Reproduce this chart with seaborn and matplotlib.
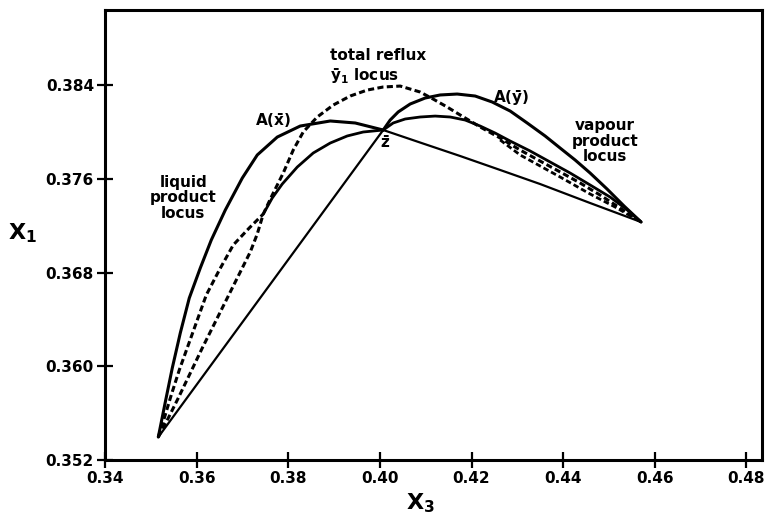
import matplotlib
matplotlib.use("Agg")
import matplotlib.pyplot as plt
import numpy as np
import pandas as pd
import seaborn as sns

# ---------------- data ----------------
# A(x-bar) profile: high arc from bottoms point to feed z, then near-straight to distillate point
ax_left_x = [0.35163, 0.35316, 0.35468, 0.35643, 0.35839, 0.36079, 0.36319, 0.36625,
             0.36996, 0.37323, 0.37760, 0.38261, 0.38916, 0.39461, 0.40072]
ax_left_y = [0.35396, 0.35695, 0.35985, 0.36284, 0.36582, 0.36838, 0.37077, 0.37333,
             0.37606, 0.37803, 0.37956, 0.38050, 0.38093, 0.38076, 0.38016]
ax_right_x = [0.40072, 0.40879, 0.41752, 0.42624, 0.43497, 0.44588, 0.45700]
ax_right_y = [0.38016, 0.37909, 0.37794, 0.37675, 0.37555, 0.37393, 0.37231]

# A(y-bar) profile: straight line to z, then high arc to distillate point
ay_left_x = [0.35163, 0.40072]
ay_left_y = [0.35396, 0.38016]
ay_right_x = [0.40072, 0.40224, 0.40399, 0.40661, 0.40988, 0.41316, 0.41686, 0.42079, 0.42450,
              0.42843, 0.43214, 0.43606, 0.43934, 0.44261, 0.44588, 0.44959, 0.45330, 0.45700]
ay_right_y = [0.38016, 0.38101, 0.38170, 0.38238, 0.38289, 0.38315, 0.38323, 0.38306, 0.38255,
              0.38178, 0.38076, 0.37965, 0.37862, 0.37760, 0.37649, 0.37512, 0.37367, 0.37231]

# intermediate profile (solid)
mid_x = [0.37454, 0.37650, 0.37868, 0.38196, 0.38545, 0.38916, 0.39286, 0.39635, 0.40072,
         0.40290, 0.40552, 0.40879, 0.41206, 0.41534, 0.41861, 0.42188, 0.42515, 0.42843,
         0.43279, 0.43715, 0.44152, 0.44588, 0.45024, 0.45373, 0.45700]
mid_y = [0.37299, 0.37436, 0.37555, 0.37700, 0.37820, 0.37905, 0.37965, 0.37999, 0.38016,
         0.38076, 0.38110, 0.38127, 0.38135, 0.38127, 0.38101, 0.38050, 0.37990, 0.37922,
         0.37837, 0.37743, 0.37649, 0.37547, 0.37444, 0.37342, 0.37231]

# total reflux y1 locus (dashed)
tr_x = [0.35163, 0.35381, 0.35599, 0.35861, 0.36123, 0.36385, 0.36646, 0.36908, 0.37170,
        0.37323, 0.37454, 0.37650, 0.37890, 0.38108, 0.38326, 0.38632, 0.38981, 0.39352,
        0.39723, 0.40072, 0.40443, 0.40879, 0.41163, 0.41468, 0.41752, 0.42188, 0.42624,
        0.43061, 0.43497, 0.43934, 0.44370, 0.44806, 0.45243, 0.45700]
tr_y = [0.35396, 0.35558, 0.35729, 0.35942, 0.36156, 0.36361, 0.36565, 0.36770, 0.36975,
        0.37129, 0.37299, 0.37461, 0.37649, 0.37845, 0.37999, 0.38127, 0.38229, 0.38306,
        0.38357, 0.38383, 0.38391, 0.38340, 0.38280, 0.38212, 0.38144, 0.38042, 0.37948,
        0.37845, 0.37751, 0.37658, 0.37564, 0.37461, 0.37350, 0.37231]

# liquid product locus (dashed)
lq_x = [0.35163, 0.35294, 0.35446, 0.35621, 0.35817, 0.36014, 0.36210, 0.36494, 0.36799,
        0.37148, 0.37454]
lq_y = [0.35396, 0.35558, 0.35755, 0.35968, 0.36181, 0.36395, 0.36608, 0.36821, 0.37035,
        0.37180, 0.37299]

# vapour product locus (dashed)
vp_x = [0.42624, 0.43061, 0.43497, 0.43934, 0.44588, 0.45133, 0.45700]
vp_y = [0.37931, 0.37803, 0.37709, 0.37615, 0.37470, 0.37359, 0.37231]

xticks = [0.34, 0.36, 0.38, 0.40, 0.42, 0.44, 0.46, 0.48]
xtick_labels = ["0.34", "0.36", "0.38", "0.40", "0.42", "0.44", "0.46", "0.48"]
yticks = [0.352, 0.360, 0.368, 0.376, 0.384]
ytick_labels = ["0.352", "0.360", "0.368", "0.376", "0.384"]

# ---------------- plot ----------------
sns.set_style("ticks")
plt.rcParams['font.family'] = ['DejaVu Sans']
plt.rcParams['font.weight'] = 'bold'
plt.rcParams['mathtext.fontset'] = 'dejavusans'
plt.rcParams['mathtext.default'] = 'bf'
for key in ['text.color', 'axes.labelcolor', 'xtick.color', 'ytick.color', 'axes.edgecolor']:
    plt.rcParams[key] = 'black'

fig = plt.figure(figsize=(7.66, 5.24), dpi=100)
ax = fig.add_axes([0.1371, 0.1221, 0.8577, 0.8588])

solid = dict(color='black', sort=False, estimator=None, ax=ax, legend=False,
             solid_joinstyle='round', dash_joinstyle='round')
dash = (0, (2.0, 1.1))
sns.lineplot(x=ax_left_x, y=ax_left_y, lw=2.2, **solid)
sns.lineplot(x=ax_right_x, y=ax_right_y, lw=1.6, **solid)
sns.lineplot(x=ay_left_x, y=ay_left_y, lw=1.6, **solid)
sns.lineplot(x=ay_right_x, y=ay_right_y, lw=2.2, **solid)
sns.lineplot(x=mid_x, y=mid_y, lw=2.0, **solid)
sns.lineplot(x=tr_x, y=tr_y, lw=2.2, linestyle=dash, **solid)
sns.lineplot(x=lq_x, y=lq_y, lw=2.2, linestyle=dash, **solid)
sns.lineplot(x=vp_x, y=vp_y, lw=2.0, linestyle=dash, **solid)

ax.set_xlim(0.34, 0.4834)
ax.set_ylim(0.352, 0.3904)
ax.set_xticks(xticks)
ax.set_xticklabels(xtick_labels)
ax.set_yticks(yticks)
ax.set_yticklabels(ytick_labels)
ax.tick_params(direction='inout', length=12, width=1.6, pad=2, labelsize=11,
               colors='black')
for s in ax.spines.values():
    s.set_linewidth(2.2)
    s.set_color('black')

ax.set_xlabel("X$_3$", fontsize=16, fontweight='bold', color='black')
ax.set_ylabel("X$_1$", fontsize=16, fontweight='bold', rotation=0, color='black')
ax.xaxis.set_label_coords(0.48, -0.07)
ax.yaxis.set_label_coords(-0.125, 0.478)

tk = dict(fontsize=11, fontweight='bold', color='black')
ax.text(0.38916, 0.38656, "total reflux", ha='left', va='center', **tk)
ax.text(0.38916, 0.38477, r"$\bar{y}_1$ locus", ha='left', va='center', **tk)
ax.text(0.37672, 0.38101, r"A($\bar{x}$)", ha='center', va='center', **tk)
ax.text(0.42864, 0.38289, r"A($\bar{y}$)", ha='center', va='center', **tk)
ax.text(0.40115, 0.37905, r"$\bar{z}$", ha='center', va='center', **tk)
ax.text(0.35709, 0.37436, "liquid\nproduct\nlocus", ha='center', va='center',
        linespacing=1.05, **tk)
ax.text(0.44915, 0.37922, "vapour\nproduct\nlocus", ha='center', va='center',
        linespacing=1.05, **tk)

fig.savefig("out.png", dpi=100)
